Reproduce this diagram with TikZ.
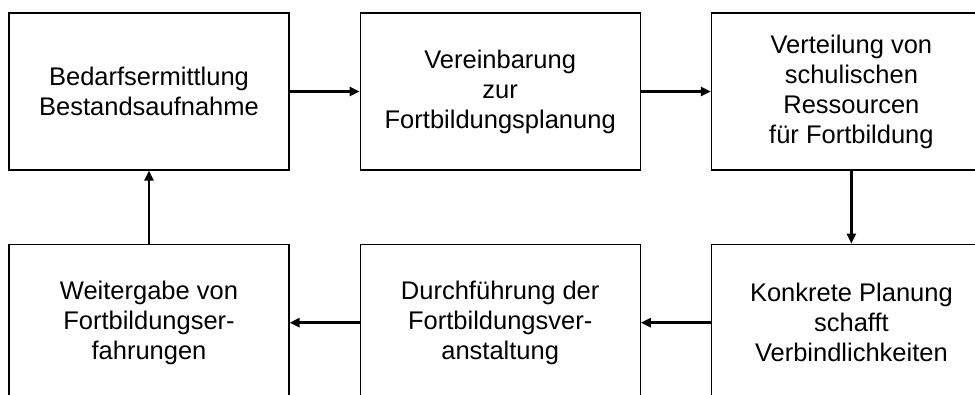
\documentclass[tikz,border=0pt]{standalone}
\usepackage{fontspec}
\setmainfont{Liberation Sans}
\usetikzlibrary{arrows.meta,positioning}

\begin{document}
\begin{tikzpicture}[x=1pt,y=1pt,
    box/.style={draw,line width=1.2pt,minimum width=280pt,minimum height=157pt,inner sep=0pt,align=center,font=\fontsize{25.5}{30}\selectfont},
    flow/.style={line width=2.8pt,-{Triangle[length=10pt,width=9pt]}},
    node distance=73pt and 70pt]
      \useasboundingbox (0,0) rectangle (975,394);
      \node[box] (bedarf) at (149,302.5) {Bedarfsermittlung\\Bestandsaufnahme};
      \node[box,right=of bedarf] (vereinb) {Vereinbarung\\zur\\Fortbildungsplanung};
      \node[box,right=of vereinb] (verteil) {Verteilung von\\schulischen\\Ressourcen\\für Fortbildung};
      \node[box,below=of verteil] (planung) {Konkrete Planung\\schafft\\Verbindlichkeiten};
      \node[box,left=of planung] (durchf) {Durchführung der\\Fortbildungsver-\\anstaltung};
      \node[box,left=of durchf] (weiter) {Weitergabe von\\Fortbildungser-\\fahrungen};
      \draw[flow] (bedarf) -- (vereinb);
      \draw[flow] (vereinb) -- (verteil);
      \draw[flow] (verteil) -- (planung);
      \draw[flow] (planung) -- (durchf);
      \draw[flow] (durchf) -- (weiter);
      \draw[flow] (weiter) -- (bedarf);
    \end{tikzpicture}
\end{document}
